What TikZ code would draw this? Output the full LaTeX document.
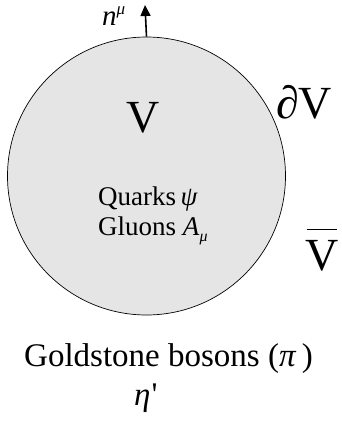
\documentclass[tikz,border=0pt]{standalone}
\usepackage{fontspec}
\setmainfont{Liberation Serif}
\usetikzlibrary{arrows.meta}
\begin{document}
\begin{tikzpicture}[x=1pt,y=-1pt,
  huge/.style={font=\fontsize{46}{46}\selectfont, inner sep=0pt},
  mid/.style={font=\fontsize{27}{27}\selectfont, inner sep=0pt},
  large/.style={font=\fontsize{33}{33}\selectfont, inner sep=0pt},
  small/.style={font=\fontsize{29}{29}\selectfont, inner sep=0pt}]
\useasboundingbox (0,0) rectangle (341,426);
\node[circle, draw=black, line width=0.7pt, fill=black!10, minimum size=278pt, inner sep=0pt] (ball) at (146.5,176) {};
\coordinate (tip) at (145,5);
\draw[line width=1.6pt, -{Triangle[length=11pt,width=10pt]}] (ball.north) -- (tip);
\node[small, anchor=base west] (n) at (102,25) {\textit{n}\raisebox{11pt}{\fontsize{17}{17}\selectfont\textit{μ}}};
\node[huge, anchor=base] (V) at (143.5,132) {V};
\node[huge, anchor=base west] (dV) at (276,118) {∂V};
\node[mid, anchor=base west] (q) at (98,205) {Quarks\,\textit{ψ}};
\node[mid, anchor=base west] (g) at (98,235) {Gluons \textit{A}\raisebox{-6pt}{\fontsize{16}{16}\selectfont\textit{μ}}};
\node[huge, anchor=base] (vb) at (322,270) {V};
\draw[line width=1.3pt] ([xshift=1.5pt,yshift=10pt]vb.north west) -- ([xshift=-1.5pt,yshift=10pt]vb.north east);
\node[large, anchor=base west] (gb) at (24,366) {Goldstone bosons (\textit{π}\,)};
\node[large, anchor=base west] (eta) at (134,405) {\textit{η}\kern1pt\textquotesingle};
\end{tikzpicture}
\end{document}
